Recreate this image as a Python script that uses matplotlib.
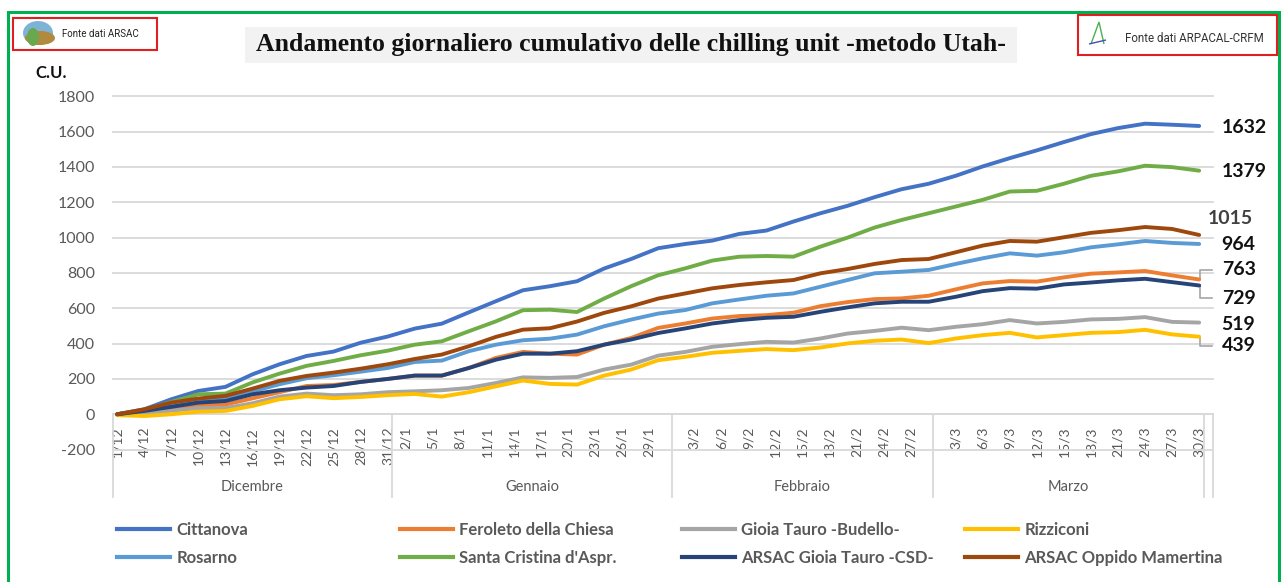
import matplotlib
matplotlib.use('Agg')
import matplotlib.pyplot as plt
from matplotlib.lines import Line2D
from matplotlib.patches import Rectangle, Ellipse, Polygon

plt.rcParams['font.family'] = ['Lato', 'DejaVu Sans']
plt.rcParams['axes.unicode_minus'] = False

# --- categorie: giorni dal 1/12 al 30/3 (feb 29 giorni) + una categoria vuota finale
months = ['Dicembre', 'Gennaio', 'Febbraio', 'Marzo']
month_num = [12, 1, 2, 3]
month_days = [31, 31, 29, 30]

# date (ogni 3 giorni)
dates = ['1/12', '4/12', '7/12', '10/12', '13/12', '16/12', '19/12', '22/12', '25/12', '28/12', '31/12',
         '3/1', '6/1', '9/1', '12/1', '15/1', '18/1', '21/1', '24/1', '27/1', '30/1',
         '2/2', '5/2', '8/2', '11/2', '14/2', '17/2', '20/2', '23/2', '26/2', '29/2',
         '3/3', '6/3', '9/3', '12/3', '15/3', '18/3', '21/3', '24/3', '27/3', '30/3']

tick_labels = ['1/12', '4/12', '7/12', '10/12', '13/12', '16/12', '19/12', '22/12', '25/12', '28/12', '31/12',
               '2/1', '5/1', '8/1', '11/1', '14/1', '17/1', '20/1', '23/1', '26/1', '29/1',
               '3/2', '6/2', '9/2', '12/2', '15/2', '18/2', '21/2', '24/2', '27/2',
               '3/3', '6/3', '9/3', '12/3', '15/3', '18/3', '21/3', '24/3', '27/3', '30/3']

cittanova = [0, 28, 85, 132, 155, 226, 283, 330, 355, 405, 440,
             485, 513, 577, 640, 702, 725, 753, 825, 879, 940,
             964, 983, 1021, 1040, 1091, 1138, 1180, 1229, 1274, 1305,
             1350, 1403, 1450, 1494, 1541, 1586, 1620, 1645, 1639, 1632]
feroleto = [0, 15, 30, 50, 55, 90, 125, 160, 166, 183, 200,
            219, 219, 262, 319, 353, 343, 338, 394, 432, 489,
            514, 542, 556, 561, 575, 612, 635, 652, 656, 671,
            707, 741, 754, 751, 775, 796, 803, 811, 786, 763]
budello = [0, 8, 20, 35, 35, 62, 100, 117, 108, 113, 125,
           130, 136, 149, 177, 209, 206, 211, 253, 281, 332,
           353, 382, 397, 410, 406, 429, 457, 472, 490, 476,
           495, 510, 533, 514, 523, 537, 540, 550, 523, 519]
rizziconi = [-5, -10, 0, 15, 19, 47, 85, 102, 91, 98, 108,
             115, 100, 125, 158, 191, 172, 168, 219, 253, 306,
             325, 348, 359, 369, 363, 378, 401, 416, 423, 403,
             429, 448, 461, 435, 448, 461, 465, 478, 452, 439]
rosarno = [0, 25, 55, 80, 90, 130, 170, 204, 221, 241, 262,
           296, 304, 357, 394, 419, 428, 451, 498, 536, 570,
           590, 628, 650, 671, 684, 722, 760, 798, 807, 817,
           851, 883, 911, 898, 917, 945, 962, 981, 970, 964]
s_cristina = [0, 22, 70, 113, 117, 180, 230, 274, 302, 334, 360,
              394, 413, 470, 526, 589, 592, 579, 655, 725, 787,
              826, 870, 892, 896, 892, 949, 1000, 1057, 1100, 1138,
              1176, 1214, 1261, 1265, 1305, 1350, 1375, 1407, 1399, 1379]
gioia_csd = [0, 19, 42, 66, 75, 113, 136, 151, 160, 183, 200,
             219, 219, 262, 309, 343, 343, 357, 394, 423, 460,
             486, 514, 533, 546, 552, 580, 605, 628, 637, 637,
             665, 697, 714, 711, 735, 746, 758, 767, 748, 729]
oppido = [0, 28, 66, 89, 104, 145, 189, 217, 236, 258, 283,
          313, 338, 385, 438, 479, 487, 525, 574, 611, 655,
          684, 713, 732, 747, 760, 798, 822, 851, 873, 879,
          917, 955, 981, 977, 1002, 1027, 1042, 1060, 1049, 1015]

names = ['Cittanova', 'Feroleto della Chiesa', 'Gioia Tauro -Budello-', 'Rizziconi',
         'Rosarno', "Santa Cristina d'Aspr.", 'ARSAC Gioia Tauro -CSD-', 'ARSAC Oppido Mamertina']
values = [cittanova, feroleto, budello, rizziconi, rosarno, s_cristina, gioia_csd, oppido]
colors = ['#4472C4', '#ED7D31', '#A5A5A5', '#FFC000', '#5B9BD5', '#70AD47', '#264478', '#9E480E']

# posizione delle etichette finali (y in unita' del grafico)
end_label_y = [1626, 817, 506, 387, 959, 1372, 657, 1111]

W, H = 1285, 582


def fx(x):
    return x / W


def fy(y):
    return 1 - y / H


offset = {}
start = 0
for m, n in zip(month_num, month_days):
    offset[m] = start
    start += n
n_cat = start + 1


def pos(d):
    day, m = d.split('/')
    return offset[int(m)] + int(day) - 1 + 0.5


x = [pos(d) for d in dates]
tick_pos = [pos(t) for t in tick_labels]

fig = plt.figure(figsize=(W / 100, H / 100), dpi=100)
ax = fig.add_axes([fx(112.7), fy(449.6), fx(1212.7) - fx(112.7), fy(96.3) - fy(449.6)])

grid_c = '#D9D9D9'
txt_c = '#595959'

for vals, c in zip(values, colors):
    ax.plot(x, vals, color=c, lw=2.8, solid_joinstyle='round', solid_capstyle='round', zorder=3)

ax.set_xlim(0, n_cat)
ax.set_ylim(-200, 1800)
ax.set_yticks(range(-200, 1801, 200))
ax.yaxis.grid(True, color=grid_c, lw=1.3)
for gl in ax.get_ygridlines():
    gl.set_clip_on(False)
ax.set_axisbelow(True)
for s in ['top', 'right', 'left']:
    ax.spines[s].set_visible(False)
ax.spines['bottom'].set_position(('data', 0))
ax.spines['bottom'].set_color(grid_c)
ax.spines['bottom'].set_linewidth(1.3)
ax.tick_params(axis='y', length=0, pad=12.5, labelsize=11.5, labelcolor=txt_c)
ax.set_xticks(tick_pos)
ax.set_xticklabels(tick_labels, rotation=90)
ax.tick_params(axis='x', length=0, pad=9, labelsize=10, labelcolor=txt_c)

# separatori dei mesi e nomi dei mesi
xt = ax.get_xaxis_transform()
bounds = [0]
for n in month_days:
    bounds.append(bounds[-1] + n)
bounds.append(n_cat)
for b in bounds:
    ax.plot([b, b], [-0.134, 0.1], transform=xt, color=grid_c, lw=1.3, clip_on=False, zorder=1)
for i, mname in enumerate(months):
    ax.text((bounds[i] + bounds[i + 1]) / 2, -0.106, mname, transform=xt, ha='center', va='center',
            fontsize=10.5, color=txt_c)

# etichette dei valori finali
x_end = x[-1]
for i, (vals, ly) in enumerate(zip(values, end_label_y)):
    lx = 121.4 if i == 7 else 123.0
    col = '#404040' if i == 7 else '#111111'
    ax.text(lx, ly, str(vals[-1]), fontsize=14, weight='bold', color=col, va='center', ha='left',
            clip_on=False)
    if abs(ly - vals[-1]) > 40 and i != 7:
        ax.plot([x_end + 0.1, x_end + 0.1, 121.9], [vals[-1], ly, ly], color='#A6A6A6', lw=1.2,
                clip_on=False, zorder=2)

# legenda: 4 colonne, 2 righe
col_x = [117, 400, 682, 965]
for j in range(4):
    hs = [Line2D([], [], color=colors[j], lw=3), Line2D([], [], color=colors[j + 4], lw=3)]
    leg = fig.legend(hs, [names[j], names[j + 4]], loc='center left', bbox_to_anchor=(fx(col_x[j]), fy(544)),
                     frameon=False, borderpad=0, borderaxespad=0, handlelength=3.2, handletextpad=0.35,
                     labelspacing=0.75, prop={'weight': 'bold', 'size': 12})
    for t in leg.get_texts():
        t.set_color(txt_c)

# cornice verde
fig.patches.append(Rectangle((fx(8), fy(584)), fx(1279) - fx(8), fy(12) - fy(584), transform=fig.transFigure,
                             fill=False, edgecolor='#00B050', lw=2.2))

# titolo
fig.patches.append(Rectangle((fx(245), fy(63)), fx(1017) - fx(245), fy(27) - fy(63), transform=fig.transFigure,
                             facecolor='#F2F2F2', edgecolor='none'))
fig.text(fx(631), fy(45), 'Andamento giornaliero cumulativo delle chilling unit -metodo Utah-',
         ha='center', va='center', fontsize=18.5, weight='bold', family=['Liberation Serif', 'DejaVu Serif'],
         color='#111111')

fig.text(fx(35), fy(73), 'C.U.', ha='left', va='center', fontsize=12, weight='bold', color='#111111')

# riquadro ARSAC
fig.patches.append(Rectangle((fx(13), fy(50)), fx(157) - fx(13), fy(18) - fy(50), transform=fig.transFigure,
                             fill=False, edgecolor='#E02020', lw=1.5))
fig.patches.append(Ellipse((fx(38), fy(33)), fx(30), 24 / H, transform=fig.transFigure,
                           facecolor='#7FB3D5', edgecolor='none'))
fig.patches.append(Ellipse((fx(40), fy(38)), fx(30), 14 / H, transform=fig.transFigure,
                           facecolor='#B08A3E', edgecolor='none'))
fig.patches.append(Ellipse((fx(33), fy(37)), fx(12), 18 / H, transform=fig.transFigure,
                           facecolor='#6AA84F', edgecolor='none'))
fig.text(fx(62), fy(34), 'Fonte dati ARSAC', ha='left', va='center', fontsize=7,
         family=['Roboto', 'DejaVu Sans'], color='#222222')

# riquadro ARPACAL
fig.patches.append(Rectangle((fx(1078), fy(55)), fx(1277) - fx(1078), fy(15) - fy(55), transform=fig.transFigure,
                             fill=False, edgecolor='#E02020', lw=1.5))
fig.patches.append(Polygon([(fx(1091), fy(44)), (fx(1099), fy(22)), (fx(1104), fy(44))], closed=False,
                           transform=fig.transFigure, fill=False, edgecolor='#4CAF50', lw=1))
fig.patches.append(Polygon([(fx(1089), fy(44)), (fx(1106), fy(40))], closed=False,
                           transform=fig.transFigure, fill=False, edgecolor='#3F51B5', lw=1))
fig.text(fx(1125), fy(38), 'Fonte dati ARPACAL-CRFM', ha='left', va='center', fontsize=8.3,
         family=['Roboto', 'DejaVu Sans'], color='#333333')

fig.savefig('out.png', dpi=100)
